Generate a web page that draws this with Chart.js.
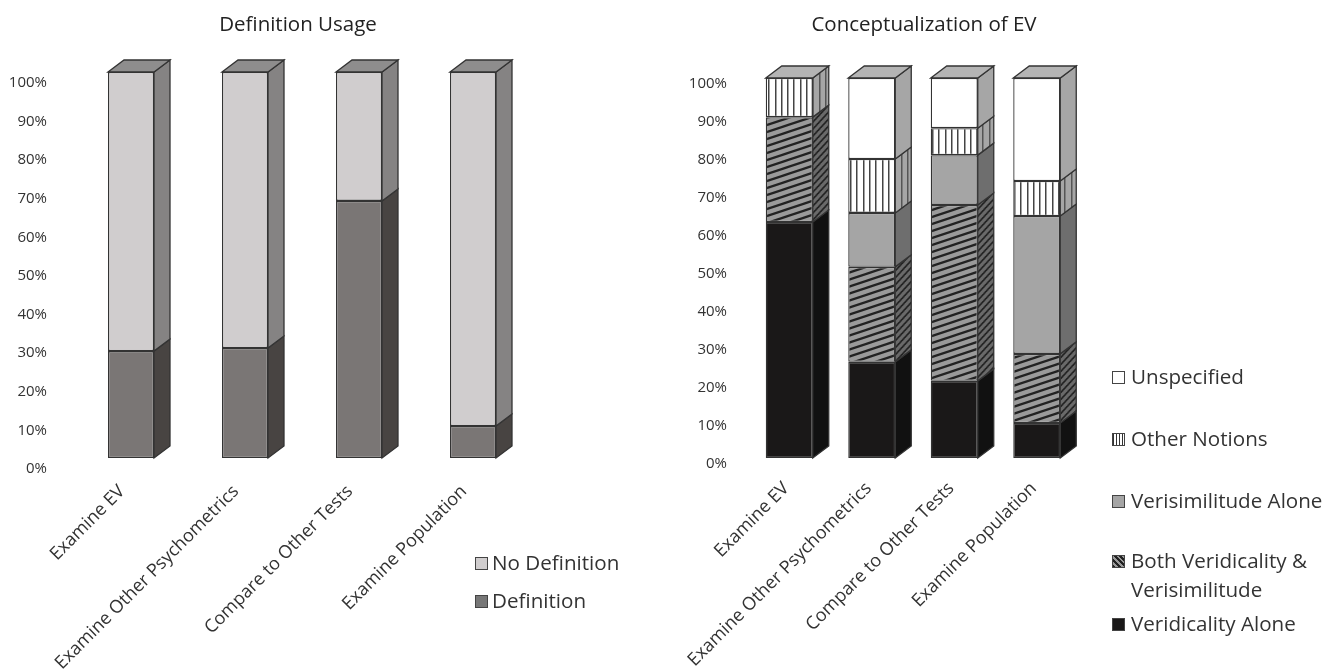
<!DOCTYPE html>
<html>
<head>
<meta charset="utf-8">
<title>Definition Usage / Conceptualization of EV</title>
<script src="https://cdn.jsdelivr.net/npm/chart.js@4"></script>
<style>
    html, body { margin: 0; padding: 0; background: #fff; overflow: hidden; }
    body { width: 1336px; height: 670px; position: relative; font-family: "Open Sans", sans-serif; color: #333; }
    canvas { position: absolute; top: 0; }
    #usage-chart { left: 0; }
    #concept-chart { left: 680px; }
    .legend-item { position: absolute; font-size: 20.6px; line-height: 29px; white-space: nowrap; }
    .swatch { position: absolute; left: -19px; top: 9px; width: 11px; height: 11px; border: 1px solid #444; }
</style>
</head>
<body>
<canvas id="usage-chart" width="596" height="670"></canvas>
<canvas id="concept-chart" width="488" height="670"></canvas>
<div id="legends"></div>
<script>
// 数据
const categories = ['Examine EV', 'Examine Other Psychometrics', 'Compare to Other Tests', 'Examine Population'];
const tickValues = [0, 10, 20, 30, 40, 50, 60, 70, 80, 90, 100];

const definition = [27.7, 28.5, 66.6, 8.3];
const noDefinition = [72.3, 71.5, 33.4, 91.7];

const veridicalityAlone = [62.1, 25.3, 20.3, 9.2];
const bothKinds = [27.6, 25, 46.3, 18.2];
const verisimilitudeAlone = [0, 14.2, 13.1, 36.3];
const otherNotions = [10.3, 14.2, 7.1, 9.2];
const unspecified = [0, 21.3, 13.2, 27.1];

const DEPTH_X = 16;
const DEPTH_Y = 12;
const EDGE = '#333333';
const FONT = '"Open Sans", sans-serif';

// 条纹图案
function stripes(bg, fg, kind) {
    const tile = document.createElement('canvas');
    const c = tile.getContext('2d');
    if (kind === 'vertical') {
        tile.width = 63;
        tile.height = 8;
        c.fillStyle = bg;
        c.fillRect(0, 0, tile.width, tile.height);
        c.fillStyle = fg;
        for (let i = 0; i < 10; i++) c.fillRect(Math.round(i * 6.3), 0, 1.5, 8);
    } else {
        tile.width = 21;
        tile.height = 7;
        c.fillStyle = bg;
        c.fillRect(0, 0, 21, 7);
        c.strokeStyle = fg;
        c.lineWidth = 2.3;
        [-7, 0, 7].forEach(off => {
            c.beginPath();
            c.moveTo(-3, 7 + off + 1);
            c.lineTo(24, off - 1);
            c.stroke();
        });
    }
    return c.createPattern(tile, 'repeat');
}

function sidePattern(pattern) {
    pattern.setTransform(new DOMMatrix([1, -DEPTH_Y / DEPTH_X, 0, 1, 0, 0]));
    return pattern;
}

// 立体柱的侧面和顶面
const boxFaces = {
    id: 'boxFaces',
    afterLayout(chart, args, opts) {
        // 标题的中心不在绘图区中间
        chart.titleBlock.left = opts.titleX - 200;
        chart.titleBlock.right = opts.titleX + 200;
    },
    beforeDatasetsDraw(chart, args, opts) {
        const ctx = chart.ctx;
        const tops = {};
        ctx.save();
        ctx.strokeStyle = EDGE;
        ctx.lineWidth = 1.3;
        chart.data.datasets.forEach((ds, d) => {
            chart.getDatasetMeta(d).data.forEach((bar, i) => {
                const { x, y, base, width } = bar.getProps(['x', 'y', 'base', 'width'], true);
                const right = x + width / 2;
                if (tops[i] === undefined || y < tops[i].y) tops[i] = { y, left: x - width / 2, right };
                if (base - y < 0.5) return;
                ctx.fillStyle = ds.sideColor;
                ctx.beginPath();
                ctx.moveTo(right, y);
                ctx.lineTo(right + DEPTH_X, y - DEPTH_Y);
                ctx.lineTo(right + DEPTH_X, base - DEPTH_Y);
                ctx.lineTo(right, base);
                ctx.closePath();
                ctx.fill();
                ctx.stroke();
            });
        });
        Object.values(tops).forEach(t => {
            ctx.fillStyle = opts.topColor;
            ctx.beginPath();
            ctx.moveTo(t.left, t.y);
            ctx.lineTo(t.left + DEPTH_X, t.y - DEPTH_Y);
            ctx.lineTo(t.right + DEPTH_X, t.y - DEPTH_Y);
            ctx.lineTo(t.right, t.y);
            ctx.closePath();
            ctx.fill();
            ctx.stroke();
        });
        ctx.restore();
    }
};

function makeChart(id, title, datasets, cfg) {
    datasets.forEach(ds => {
        ds.borderColor = EDGE;
        ds.borderWidth = 1.3;
        ds.borderSkipped = false;
        ds.barPercentage = cfg.barPercentage;
        ds.categoryPercentage = 1;
    });
    return new Chart(document.getElementById(id), {
        type: 'bar',
        data: { labels: categories, datasets: datasets },
        plugins: [boxFaces],
        options: {
            responsive: false,
            animation: false,
            layout: { autoPadding: false, padding: { left: 0, right: cfg.right, top: 0, bottom: 0 } },
            plugins: {
                legend: { display: false },
                tooltip: { enabled: false },
                boxFaces: { topColor: cfg.topColor, titleX: cfg.titleX },
                title: {
                    display: true,
                    text: title,
                    color: '#222',
                    font: { family: FONT, size: 20.5, weight: 'normal', lineHeight: 1.2 },
                    padding: { top: 13, bottom: cfg.top - 13 - 24.6 }
                }
            },
            scales: {
                x: {
                    stacked: true,
                    grid: { display: false, drawTicks: false },
                    border: { display: false },
                    afterFit(axis) { axis.height = 212; },
                    ticks: {
                        color: '#333',
                        font: { family: FONT, size: 18 },
                        minRotation: 45,
                        maxRotation: 45,
                        padding: cfg.catGap,
                        labelOffset: cfg.catShift,
                        autoSkip: false
                    }
                },
                y: {
                    stacked: true,
                    min: 0,
                    max: 100,
                    grid: { display: false, drawTicks: false },
                    border: { display: false },
                    afterFit(axis) { axis.width = cfg.left; },
                    afterBuildTicks(axis) { axis.ticks = tickValues.map(v => ({ value: v })); },
                    ticks: {
                        color: '#333',
                        font: { family: FONT, size: 15 },
                        padding: cfg.labelGap,
                        labelOffset: cfg.labelShift,
                        callback: v => v + '%'
                    }
                }
            }
        }
    });
}

const usageSets = [
    { label: 'Definition', data: definition, backgroundColor: '#7a7675', sideColor: '#484442' },
    { label: 'No Definition', data: noDefinition, backgroundColor: '#d0cdce', sideColor: '#858383' }
];

const conceptSets = [
    { label: 'Veridicality Alone', data: veridicalityAlone, backgroundColor: '#1a1818', sideColor: '#111111' },
    { label: 'Both Veridicality & Verisimilitude', data: bothKinds, backgroundColor: stripes('#9a9a9a', '#222222', 'diagonal'), sideColor: sidePattern(stripes('#6a6a6a', '#222222', 'diagonal')) },
    { label: 'Verisimilitude Alone', data: verisimilitudeAlone, backgroundColor: '#a5a5a5', sideColor: '#6e6e6e' },
    { label: 'Other Notions', data: otherNotions, backgroundColor: stripes('#ffffff', '#444444', 'vertical'), sideColor: sidePattern(stripes('#a6a6a6', '#555555', 'vertical')) },
    { label: 'Unspecified', data: unspecified, backgroundColor: '#ffffff', sideColor: '#a6a6a6' }
];

makeChart('usage-chart', 'Definition Usage', usageSets, { left: 74, right: 66, top: 72, labelGap: 27, labelShift: 11, catGap: 23, catShift: -9, barPercentage: 46 / 114, topColor: '#8e8d8d', titleX: 298 });
makeChart('concept-chart', 'Conceptualization of EV', conceptSets, { left: 68, right: 90, top: 78, labelGap: 21, labelShift: 6, catGap: 20, catShift: -3, barPercentage: 47 / 82.5, topColor: '#b4b4b4', titleX: 244 });

// 图例
const swatchCss = {
    'No Definition': '#d0cdce',
    'Definition': '#777777',
    'Unspecified': '#ffffff',
    'Other Notions': 'repeating-linear-gradient(90deg, #333 0 1px, #fff 1px 3px)',
    'Verisimilitude Alone': '#a5a5a5',
    'Both Veridicality & Verisimilitude': 'repeating-linear-gradient(45deg, #222 0 2px, #999 2px 4px)',
    'Veridicality Alone': '#1a1818'
};
const legendSpots = [
    ['No Definition', 492, 548],
    ['Definition', 492, 586],
    ['Unspecified', 1131, 362],
    ['Other Notions', 1131, 424],
    ['Verisimilitude Alone', 1131, 486],
    ['Both Veridicality & Verisimilitude', 1131, 546],
    ['Veridicality Alone', 1131, 609]
];
const legendBox = document.getElementById('legends');
legendSpots.forEach(([name, x, y]) => {
    const item = document.createElement('div');
    item.className = 'legend-item';
    item.style.left = x + 'px';
    item.style.top = y + 'px';
    item.textContent = name;
    if (name.startsWith('Both')) item.innerHTML = 'Both Veridicality &amp;<br>Verisimilitude';
    const swatch = document.createElement('span');
    swatch.className = 'swatch';
    swatch.style.background = swatchCss[name];
    if (x < 600) swatch.style.left = '-17px';
    item.appendChild(swatch);
    legendBox.appendChild(item);
});
</script>
</body>
</html>
